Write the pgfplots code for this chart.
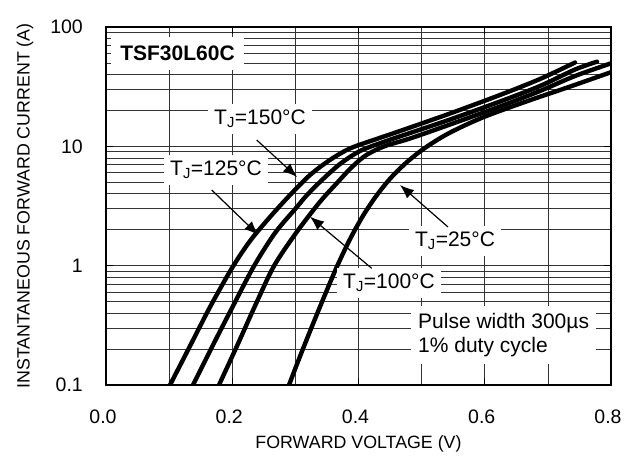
\documentclass[border=0pt]{standalone}
\usepackage{fontspec}
\setmainfont{Liberation Sans}
\usepackage{pgfplots}
\usepackage{pgfplotstable}
\pgfplotsset{compat=1.18}
\usetikzlibrary{arrows.meta}

% forward voltage (V) vs instantaneous forward current (A)
\pgfplotstableread{
v i
0.1014 0.100
0.1331 0.2122
0.1648 0.4503
0.1996 0.9559
0.2281 1.609
0.2598 2.557
0.2915 3.909
0.3232 5.751
0.3549 7.70
0.3865 9.60
0.4261 11.40
0.4657 13.44
0.5450 18.85
0.6242 26.93
0.6875 36.66
0.7430 50.4
}\tjonefifty
\pgfplotstableread{
v i
0.1378 0.100
0.1695 0.2163
0.2012 0.4592
0.2345 0.9936
0.2677 1.878
0.3010 3.042
0.3184 3.909
0.3422 5.222
0.3707 7.111
0.4024 9.140
0.4420 10.98
0.4816 12.93
0.5450 16.78
0.6242 23.75
0.6875 32.03
0.7430 44.03
0.7778 51.20
}\tjonetwentyfive
\pgfplotstableread{
v i
0.1790 0.100
0.2075 0.2122
0.2360 0.4592
0.2661 0.9936
0.3010 1.878
0.3311 3.042
0.3469 3.835
0.3659 4.929
0.3834 6.214
0.3992 7.462
0.4151 8.624
0.4420 10.06
0.4816 11.63
0.5450 15.24
0.6242 21.57
0.6875 29.09
0.7430 38.86
0.8016 49.92
}\tjonehundred
\pgfplotstableread{
v i
0.2899 0.100
0.3073 0.1736
0.3263 0.3097
0.3454 0.5462
0.3659 0.9840
0.3865 1.666
0.4071 2.617
0.4277 3.814
0.4499 5.345
0.4737 7.139
0.4974 9.052
0.5212 11.02
0.5450 13.04
0.5766 15.69
0.6083 18.45
0.6717 24.36
0.7350 31.66
0.8032 42.38
}\tjtwentyfive

\newcommand{\lbl}{\fontsize{21}{24}\selectfont}
\tikzset{vfcurve/.style={black, line width=4.4pt, line cap=round, line join=round, smooth, mark=none}}

\begin{document}
\begin{tikzpicture}
\useasboundingbox (-106pt,-70pt) rectangle (528pt,385pt);
\begin{axis}[
    at={(0,0)}, anchor=south west,
    scale only axis,
    width=505pt, height=358pt,
    xmin=0, xmax=0.8,
    ymode=log, ymin=0.1, ymax=100,
    xtick={0,0.2,0.4,0.6,0.8},
    xticklabels={0.0,0.2,0.4,0.6,0.8},
    minor xtick={0.1,0.3,0.5,0.7},
    ytick={0.1,1,10,100},
    yticklabels={0.1,1,10,100},
    grid=both,
    major grid style={black!80, line width=0.75pt},
    minor grid style={black!80, line width=0.75pt},
    axis line style={black, line width=1.3pt},
    tick style={black, line width=1.3pt},
    major tick length=7pt, minor tick length=0pt,
    tick align=inside,
    /pgf/number format/assume math mode=true,
    ticklabel style={font=\fontsize{19.5}{22}\selectfont, inner sep=0pt},
    xticklabel style={anchor=center, yshift=-32pt, xshift=-3pt},
    yticklabel style={anchor=east, xshift=-23pt},
    xlabel={FORWARD VOLTAGE (V)},
    xlabel style={font=\fontsize{17.8}{20}\selectfont, at={(axis description cs:0.5,0)}, anchor=center, yshift=-59pt},
]
\addplot[vfcurve] table[x=v, y=i] {\tjonefifty};
\addplot[vfcurve] table[x=v, y=i] {\tjonetwentyfive};
\addplot[vfcurve] table[x=v, y=i] {\tjonehundred};
\addplot[vfcurve] table[x=v, y=i] {\tjtwentyfive};
\end{axis}

\node[rotate=90, font=\fontsize{17.8}{20}\selectfont] at (-81pt,179pt) {INSTANTANEOUS FORWARD CURRENT (A)};

% label boxes punch gaps in the grid
\node[fill=white, inner xsep=9pt, inner ysep=9pt, font=\lbl\bfseries] at (71.5pt,331.5pt) {TSF30L60C};
\node[fill=white, inner xsep=6pt, inner ysep=6pt, font=\lbl] at (154pt,266pt) {T\textsubscript{J}=150°C};
\node[fill=white, inner xsep=6pt, inner ysep=6pt, font=\lbl] at (110pt,215pt) {T\textsubscript{J}=125°C};
\node[fill=white, inner xsep=6pt, inner ysep=6pt, font=\lbl] at (283pt,102pt) {T\textsubscript{J}=100°C};
\node[fill=white, inner xsep=6pt, inner ysep=6pt, font=\lbl] at (349pt,144pt) {T\textsubscript{J}=25°C};
\node[fill=white, inner xsep=7pt, inner ysep=7pt, font=\lbl, align=left, anchor=west] at (305pt,50pt) {Pulse width 300µs\\1\% duty cycle};

\begin{scope}[line width=1.2pt, -{Latex[length=14pt,width=11pt]}]
\draw (150.7pt,245pt) -- (191pt,208pt);
\draw (105.7pt,195pt) -- (152.3pt,150pt);
\draw (265.7pt,116.7pt) -- (204pt,168.3pt);
\draw (342pt,158pt) -- (294pt,200pt);
\end{scope}
\end{tikzpicture}
\end{document}
